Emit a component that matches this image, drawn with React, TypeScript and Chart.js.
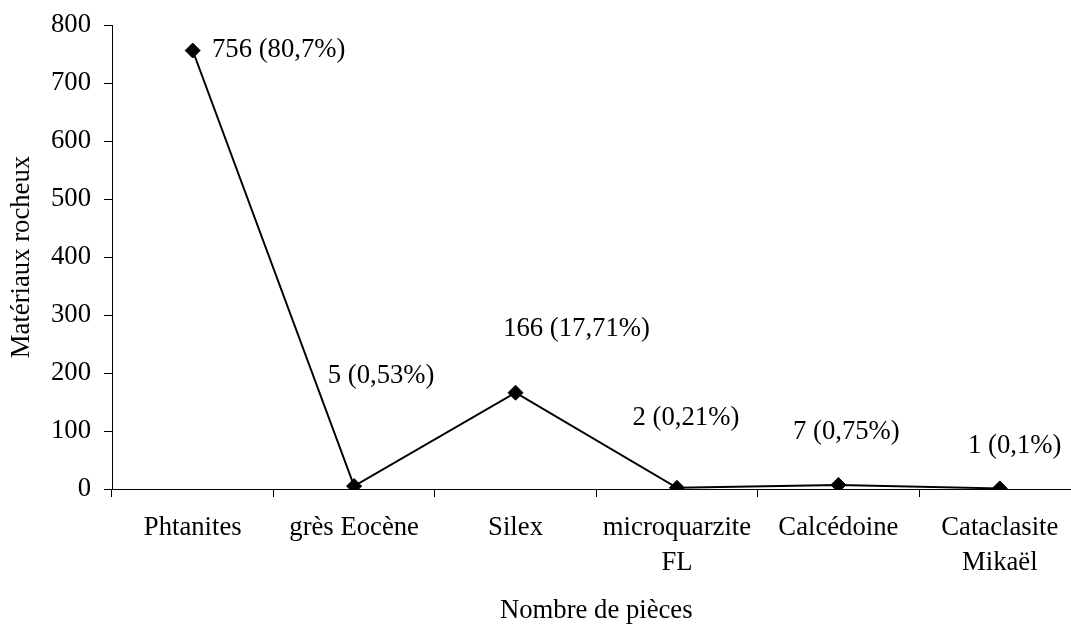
import React, { useEffect, useRef } from "react";
import { Chart, registerables } from "chart.js";

Chart.register(...registerables);

const categories: (string | string[])[] = [
  "Phtanites",
  "grès Eocène",
  "Silex",
  ["microquarzite", "FL"],
  "Calcédoine",
  ["Cataclasite", "Mikaël"],
];
const counts = [756, 5, 166, 2, 7, 1];
const percents = ["80,7", "0,53", "17,71", "0,21", "0,75", "0,1"];
const yTicks = { min: 0, max: 800, step: 100 };
const yTitle = "Matériaux rocheux";
const xTitle = "Nombre de pièces";

// label offsets (px) relative to each point, as placed in the original
const labelDx = [86, 27, 61, 9, 8, 15];
const labelDy = [-1, -110, -64, -70, -53, -42];

const FONT = '"Liberation Serif", "Times New Roman", serif';
const FS = 26.7;

const dataLabelPlugin = {
  id: "dataLabels",
  afterDatasetsDraw(chart: any) {
    const ctx = chart.ctx;
    const meta = chart.getDatasetMeta(0);
    ctx.save();
    ctx.font = `${FS}px ${FONT}`;
    ctx.fillStyle = "#000";
    ctx.textAlign = "center";
    ctx.textBaseline = "middle";
    meta.data.forEach((pt: any, i: number) => {
      const txt = `${counts[i]} (${percents[i]}%)`;
      ctx.fillText(txt, pt.x + labelDx[i], pt.y + labelDy[i]);
    });
    ctx.restore();
  },
};

export default function App() {
  const ref = useRef<HTMLCanvasElement>(null);
  useEffect(() => {
    if (!ref.current) return;
    const chart = new Chart(ref.current, {
      type: "line",
      data: {
        labels: categories as any,
        datasets: [
          {
            data: counts,
            borderColor: "#000",
            backgroundColor: "#000",
            borderWidth: 2,
            pointStyle: "rectRot",
            pointRadius: 7.5,
            pointBackgroundColor: "#000",
            pointBorderColor: "#000",
            pointBorderWidth: 1,
            tension: 0,
            fill: false,
          },
        ],
      },
      options: {
        responsive: false,
        animation: false,
        devicePixelRatio: 1,
        layout: { padding: { top: 25, left: 0, right: 0, bottom: 0 } },
        plugins: {
          legend: { display: false },
          tooltip: { enabled: false },
        },
        scales: {
          x: {
            offset: true,
            grid: {
              offset: true,
              drawOnChartArea: false,
              drawTicks: true,
              tickLength: 8,
              color: "#000",
            },
            border: { display: true, color: "#000", width: 1 },
            ticks: {
              color: "#000",
              font: { family: FONT, size: FS, lineHeight: 35 / FS },
              padding: 13.5,
              maxRotation: 0,
              minRotation: 0,
              autoSkip: false,
            },
            title: {
              display: true,
              text: xTitle,
              color: "#000",
              font: { family: FONT, size: FS, lineHeight: 1 },
              padding: { top: 0, bottom: 1 },
            },
            afterFit(scale: any) {
              scale.height = 136;
              scale.paddingLeft = 0;
              scale.paddingRight = 0;
              scale.paddingTop = 0;
              scale.paddingBottom = 0;
            },
          },
          y: {
            min: yTicks.min,
            max: yTicks.max,
            grid: {
              drawOnChartArea: false,
              drawTicks: true,
              tickLength: 8,
              color: "#000",
            },
            border: { display: true, color: "#000", width: 1 },
            ticks: {
              stepSize: yTicks.step,
              color: "#000",
              font: { family: FONT, size: FS },
              padding: 13,
            },
            title: {
              display: true,
              text: yTitle,
              color: "#000",
              font: { family: FONT, size: FS, lineHeight: 1 },
              padding: { top: 9, bottom: 0 },
            },
            afterFit(scale: any) {
              scale.width = 112;
              scale.paddingLeft = 0;
              scale.paddingRight = 0;
              scale.paddingTop = 0;
              scale.paddingBottom = 0;
            },
          },
        },
      },
      plugins: [dataLabelPlugin],
    });
    return () => chart.destroy();
  }, []);

  return (
    <div
      style={{
        position: "fixed",
        left: 0,
        top: 0,
        width: 1071,
        height: 625,
        overflow: "hidden",
        background: "#fff",
      }}
    >
      <canvas ref={ref} width={1089} height={625} style={{ display: "block" }} />
    </div>
  );
}
